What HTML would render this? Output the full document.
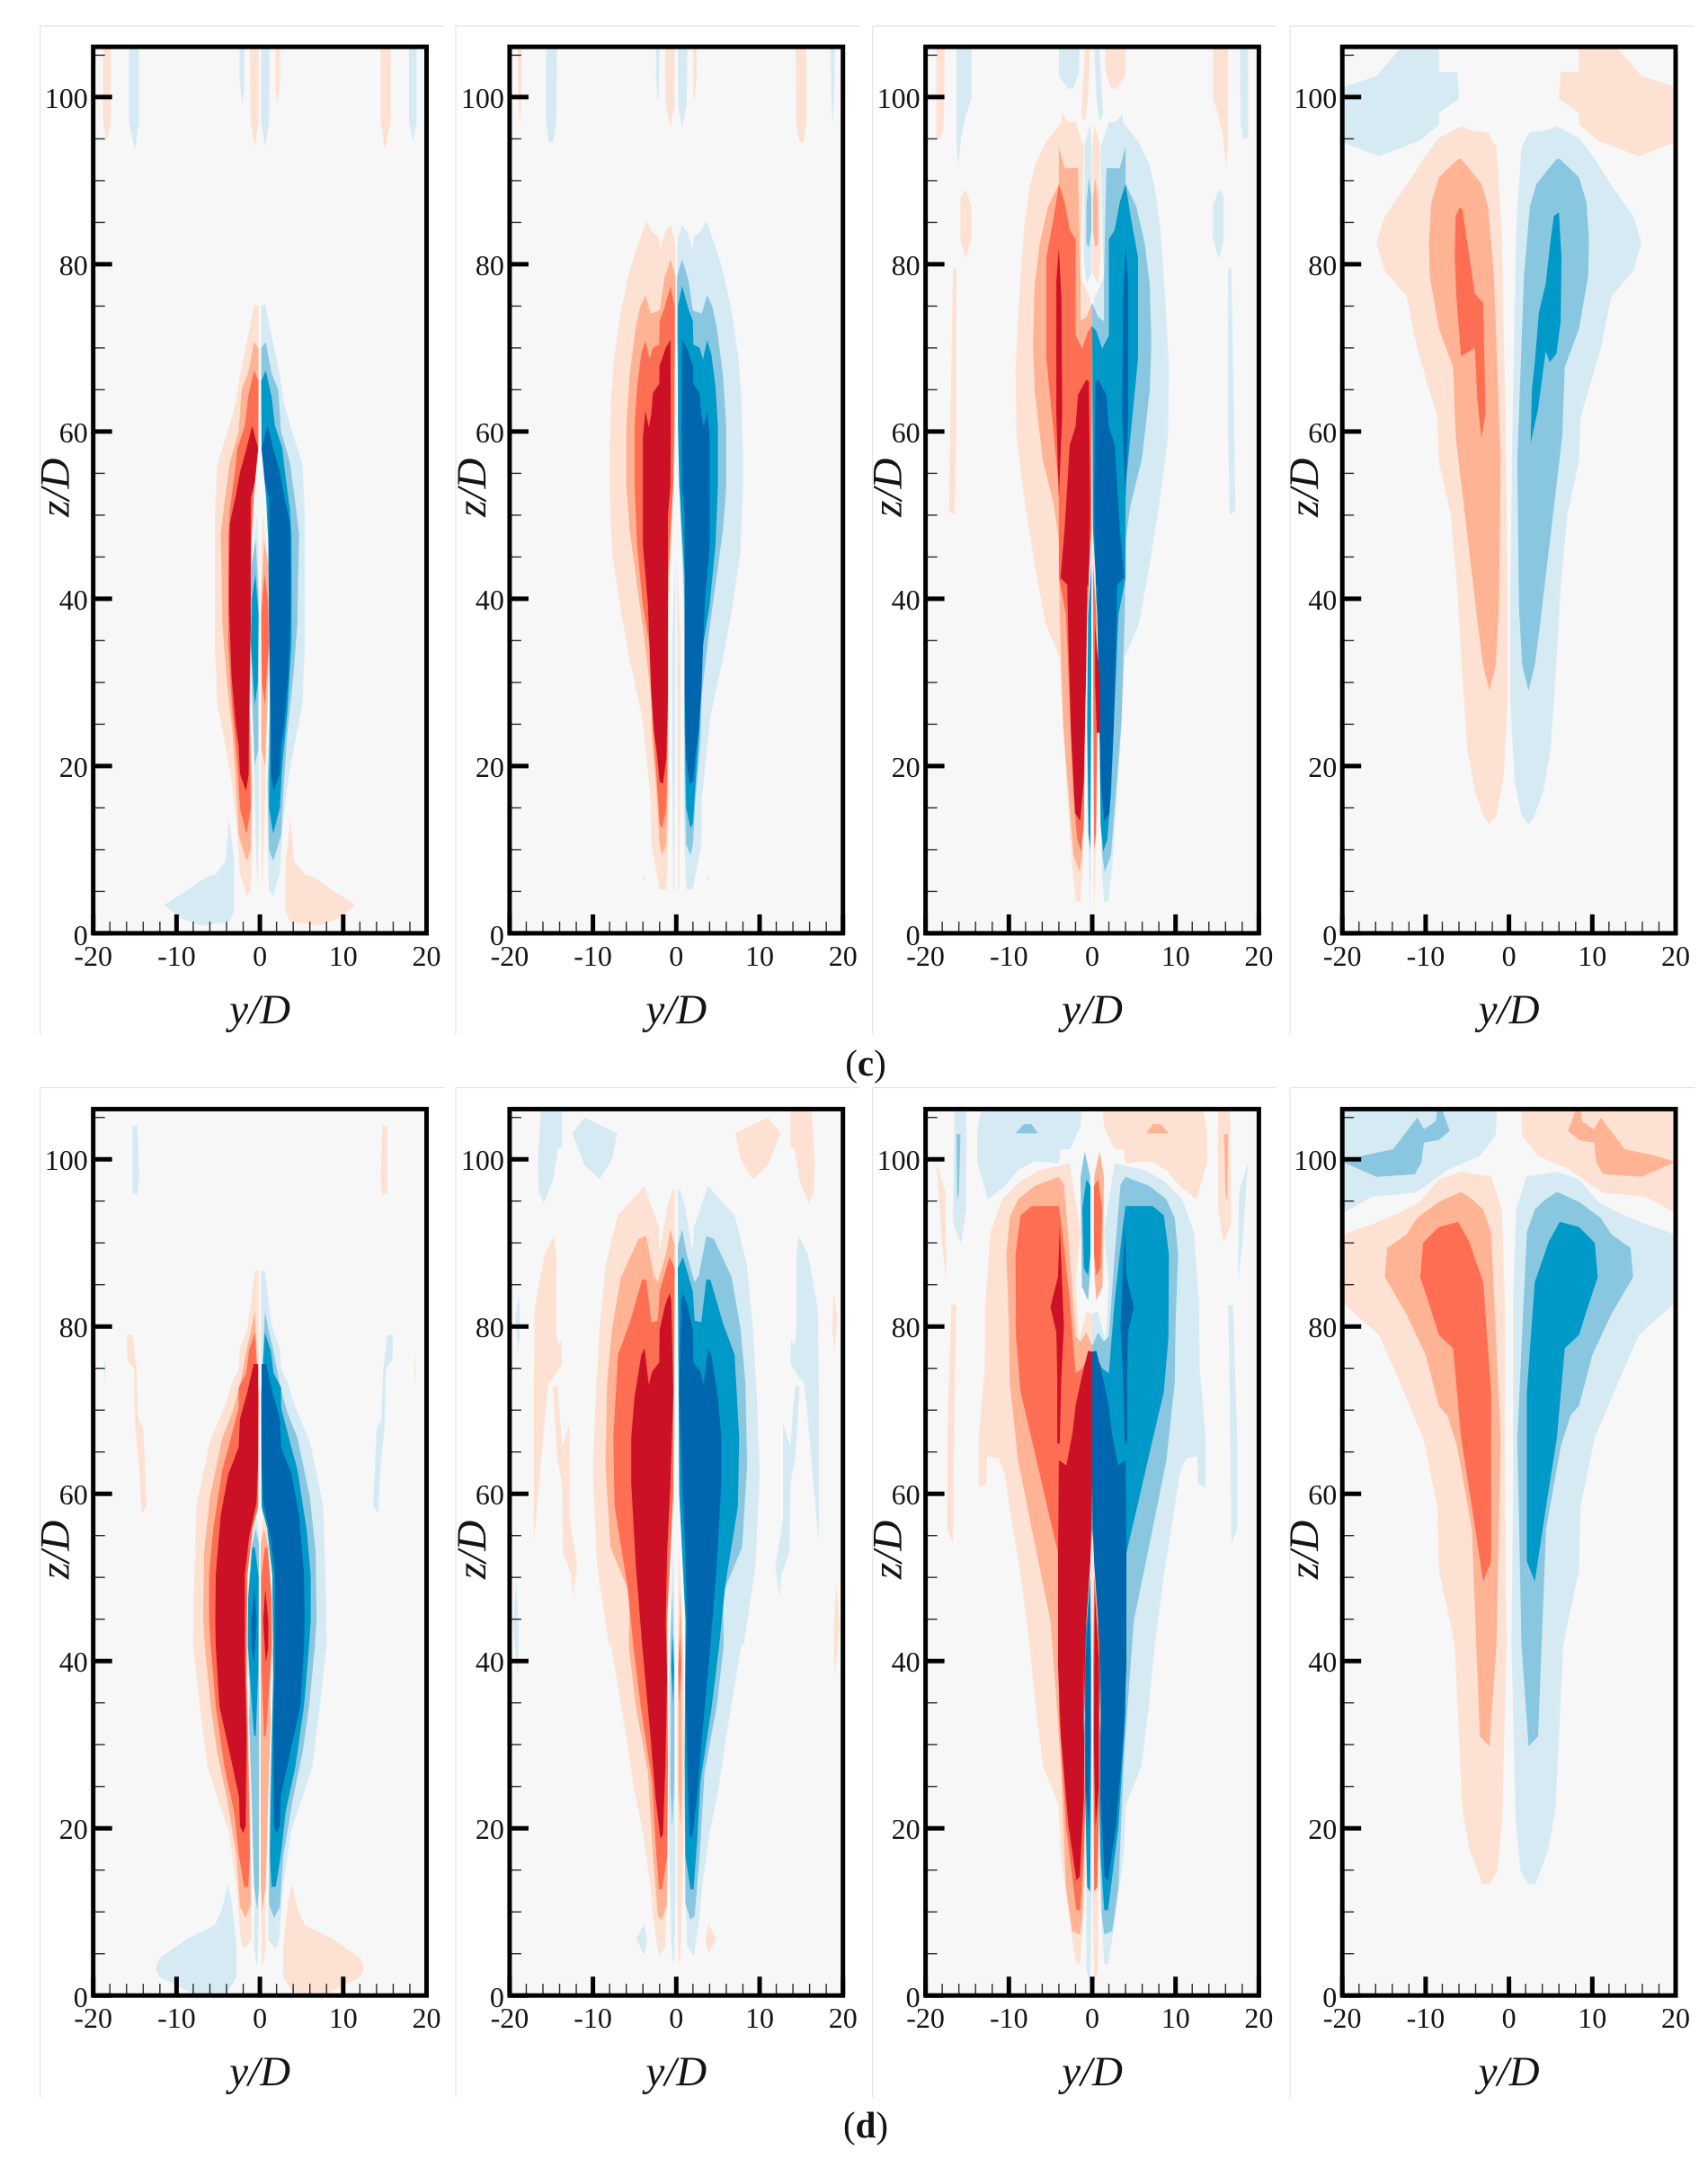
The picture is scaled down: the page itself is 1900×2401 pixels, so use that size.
<!DOCTYPE html>
<html lang="en">
<head>
<meta charset="utf-8">
<title>Contour panels (c) and (d)</title>
<style>
html,body{margin:0;padding:0;background:#fff;width:1900px;height:2401px;overflow:hidden}
svg{position:absolute;left:0;top:0;display:block}
text{font-family:"Liberation Serif",serif;fill:#141414}
</style>
</head>
<body>
<svg id="figure" xmlns="http://www.w3.org/2000/svg" width="1900" height="2401" viewBox="0 0 1900 2401"></svg>
<script>
// Tick values and labels
const zMajorTicks = [0, 20, 40, 60, 80, 100];
const zMinorTicks = [5, 10, 15, 25, 30, 35, 45, 50, 55, 65, 70, 75, 85, 90, 95, 105];
const yMajorTicks = [-20, -10, 0, 10, 20];
const yMinorTicks = [-18, -16, -14, -12, -8, -6, -4, -2, 2, 4, 6, 8, 12, 14, 16, 18];
const rowLabels = ['c', 'd'];

// Contour levels: positive = red family, negative = blue family.
// Every entry is [level, [y/D, z/D, y/D, z/D, ...]].
// "Mirrored" arrays are drawn as given and again with y -> -y and the opposite sign.
const c1Mirrored = [
 [-1,[-15.7,107,-14.5,107,-14.5,97,-15,93.6,-15.7,97]],
 [1,[-18.8,107,-17.9,107,-17.9,97,-18.4,94.7,-18.8,97]],
 [-1,[-2.44,107,-1.87,107,-1.87,101,-2.1,99,-2.44,102]],
 [1,[-1.2,107,-.15,107,-.15,97,-.6,94,-1.1,97]],
 [-1,[-11.5,3.4,-8.8,5.1,-6.3,6.8,-5.4,7,-4.1,8.6,-3.7,13.8,-3.1,8.8,-3.1,2.7,-3.6,1.4,-7,.9,-9.5,1.8]],
 [1,[-.65,75.2,-1.3,72,-2.4,66.7,-2.9,63.4,-3.6,60.9,-5.1,56,-5.4,49.9,-5.4,34.7,-5.1,27.3,-4.2,22.8,-3.4,18.3,-2.7,12.1,-2.4,7.2,-1.6,4.5,-1.1,5.1,-.93,10,-.93,18,-1.2,26.5,-1.1,37,-1,47,-.75,52,-.2,58,-.15,75]],
 [2,[-.7,70.7,-1.4,67,-2.2,65,-2.55,60,-3.6,56.3,-4.2,51.9,-4.7,47.8,-4.6,43,-4.5,37,-4,30.6,-3.3,24,-2.9,18.3,-2.55,11.7,-1.6,8.6,-1.1,10,-.93,18,-1.2,26.5,-1.1,37,-1,47,-.75,52,-.2,58,-.15,70]],
 [3,[-.7,67.3,-1.4,64.2,-1.8,60.7,-2.7,58,-2.9,56,-3.6,50.6,-3.8,47.4,-3.8,41,-3.8,34.7,-3.3,26.5,-2.7,20.3,-2.4,15,-1.6,11.9,-1.1,15,-1.2,22.4,-1.2,30,-1.1,37,-1,47,-.75,52,-.2,58,-.15,66]],
 [4,[-.93,60.7,-1.6,58,-2.4,55.1,-2.9,52.3,-3.6,49,-3.7,43,-3.7,38.8,-3.4,30.6,-2.9,24.9,-2.55,22.4,-2.4,19.1,-1.65,17,-1.35,19,-1.3,26.5,-1.1,36.8,-1.1,47,-1.1,52,-.6,54,-.2,58]],
 [-1,[-.35,50,-.93,45,-1.1,34.7,-.85,26.5,-.57,14,-.3,5.5,-.1,14,-.15,34.7,-.15,45]],
 [-2,[-.5,47,-1,44,-1.1,34.7,-.9,27,-.6,20,-.2,22,-.15,40]],
 [-3,[-.55,43,-.95,40,-1.08,34.7,-.6,27.3,-.25,30,-.15,38]]
];
const c2Mirrored = [
 [1,[-19.06,107,-18.5,107,-18.6,100,-18.75,96.5,-18.95,100]],
 [-1,[-15.6,107,-14.3,107,-14.4,97,-14.8,94.6,-15.3,94.6,-15.6,97]],
 [-1,[-2.4,107,-2,107,-2.1,100,-2.2,99.5,-2.45,103]],
 [1,[-1.35,107,-.2,107,-.25,99,-.7,96.3,-1.25,99]],
 [-1,[-4,7,-3.7,6.7,-3.9,6.2]],
 [1,[-3.6,85.2,-4.9,81.5,-5.75,78.6,-6.65,74.3,-7.4,69.3,-7.8,64.3,-8,57,-8,53.5,-7.7,45.6,-6.65,38.5,-5.6,32.8,-4.1,26,-3.6,21.3,-3.05,15.9,-3,10.6,-2.3,7,-2,5.2,-1.25,5.2,-1.1,7,-.9,14,-.9,35.6,-.54,53.5,-.1,82,-.2,83,-.7,84.7,-1.25,84,-2,81.8,-2.05,83.2,-2.9,83.9]],
 [2,[-.7,80.6,-1.45,78.2,-2,74.5,-3.05,74.1,-3.7,76.3,-4.3,75,-4.85,72.5,-5.6,66.8,-6,60.7,-6,53.5,-5.6,48.2,-4.85,42.8,-3.8,34.9,-3.05,28.5,-2.9,23,-2.3,15.9,-2,10.6,-1.7,9.3,-1.2,10.6,-1,17.7,-1,39.2,-.5,50,-.1,71.4,-.1,78.6]],
 [3,[-.7,77.4,-1.45,74.7,-2,73.2,-2.05,70.4,-2.8,70,-3.2,68.6,-3.7,70.9,-4.2,69.3,-4.7,65.4,-5,60.7,-5,53.5,-4.7,46.4,-4,39.2,-3.05,33.5,-2.8,24.9,-2.3,17.7,-2,13.1,-1.7,12.6,-1.2,14.9,-1,24.9,-1,42.8,-.36,53.5,-.2,60.7,-.2,75]],
 [4,[-.7,71,-1.25,70,-2,67.9,-2.05,65.7,-2.8,64.6,-3,62.1,-3.3,60.5,-3.7,62.5,-4,59.3,-4,53.5,-4,46.4,-3.4,39.2,-3,28.5,-2.7,24.2,-2.3,21.3,-2,18.1,-1.6,17.9,-1.2,20.9,-1,28.5,-1,50,-.7,53.5,-.65,60.7]],
 [-1,[-.1,45,-.5,35,-.5,20,-.36,5.2,-.25,5.2,-.15,20]]
];
const c3Mirrored = [
 [1,[-18.7,107,-17.7,107,-17.8,97,-18.1,95.1,-18.7,95.1]],
 [-1,[-16.3,107,-14.5,107,-14.5,99.8,-15.1,98,-15.7,95.3,-16.1,91.5,-16.3,95]],
 [1,[-15.8,88,-15.2,89,-14.5,87,-14.5,83,-15.2,80.6,-15.8,83]],
 [1,[-16.7,79.5,-16.3,79.5,-16.3,60,-16.5,50,-17.2,50.5,-17,62]],
 [-1,[-4,107,-1.5,107,-1.6,103,-2.3,101,-2.9,101,-4,102.5]],
 [1,[-.8,107,-.2,107,-.5,100,-.9,97,-1.3,98]],
 [1,[-3.66,97,-5.6,94.6,-6.9,91.8,-7.6,88.5,-8.2,84.1,-8.76,75.9,-9.2,67.7,-9.1,59.5,-8.2,52.3,-6.9,44.1,-5.6,37,-3.9,33,-3.45,23.8,-2.85,14.8,-2.4,8,-1.95,3.9,-1.45,3.7,-1.2,6.9,-1,13,-.85,27.3,-.6,38.1,-.1,45.8,0,73.2,-.25,76,-1,77.6,-1.4,78.6,-1.2,84,-1,94,-2,97,-2.9,97,-3.66,98.1]],
 [2,[-4,94,-4,89.6,-5.3,86.9,-6.3,82.5,-6.9,77.6,-7.1,70.4,-6.9,64.9,-5.95,56.7,-4.6,51.2,-4,46.9,-3.9,38,-3.5,25,-2.55,13,-2.25,9.4,-1.5,7.3,-1.2,9.4,-.9,27,-.6,38,-.1,45.8,0,75.4,-.7,73.7,-1.4,73.2,-1.4,78,-1.7,91.5,-3.3,91.5]],
 [3,[-4,89.6,-4.6,85.8,-5.5,80.8,-5.5,68.8,-4.6,59.5,-4,53.4,-4,42.5,-3.15,38.1,-2.6,25,-2.25,16.6,-1.8,11.2,-1.33,9.8,-1,13,-.85,27,-.6,38,-.1,45.8,0,72.6,-.5,72,-1.2,69.9,-2,71.5,-2,83,-2.7,84.1,-3.3,87.4]],
 [4,[-4,82,-3.7,76,-3.6,62,-4,52,-4.3,62,-4.3,78]],
 [4,[-.7,66.2,-1.7,64.4,-2,60.6,-2.7,58.4,-3.3,48.5,-3.8,42.5,-3,41.7,-2.85,34.5,-2.55,23.8,-2.06,14.4,-1.45,13.4,-1,18.4,-.7,32.7,-.6,41.7,-.4,41.4,-.25,51.2,-.4,66]],
 [-1,[-.25,96.7,-.9,94.5,-1,80.8,-.7,77.6,-.05,79,-.05,94]],
 [-2,[-.4,90.4,-.7,87,-.7,82.5,-.4,82,-.1,84,-.1,88]],
 [-1,[0,49.6,-.4,43,-.7,29.3,-.6,16.6,-.24,2.6,-.1,16,-.05,40]],
 [-3,[-.1,44,-.5,38,-.6,25,-.45,12,-.24,10,-.14,25]]
];
const c3Single = [
 [4,[.35,37,.9,30,.9,24,.55,24,.35,30]]
];
const c4Mirrored = [
 [-1,[-20,101.2,-15.9,102.5,-12,107,-8.4,107,-8.4,103,-6.2,103,-6,99.8,-8.4,98.1,-8.4,96.7,-10.7,94.8,-15.6,92.9,-20,94.6]],
 [1,[-5.75,96.5,-8.4,95.1,-10,93,-12.6,89,-14.9,85.8,-15.9,82.5,-14.9,79.2,-12.3,76.2,-11,69.9,-8.6,61.7,-8.4,56.4,-7,50.1,-6.24,41.7,-5.6,30.9,-5,22,-4.1,17,-3,13.9,-2.4,13,-1.5,14.1,-.67,18.4,-.18,27.3,-.18,41.7,-.4,60,-.85,84,-1.5,94,-2.5,95.8,-4.1,95.9]],
 [2,[-6.1,92.6,-8.4,90.4,-9.3,87.4,-9.6,83,-9.5,78.6,-8.4,72.3,-6.7,67.7,-6.4,59.5,-5.1,48.5,-3.8,37.5,-3.1,32,-2.35,29,-1.6,32,-1.2,39,-1,56.7,-1.8,78.6,-2.5,86.9,-3.3,89.6,-4.8,91.5,-5.75,92.6]]
];
const c4Single = [
 [3,[-5.9,86.8,-6.4,85.8,-6.5,80.8,-6.3,75.9,-5.75,69,-4.1,70,-3.8,63.8,-3.3,59.2,-2.8,62.2,-3.1,75.4,-4.1,76.5,-4.9,81.9,-5.6,86.6]],
 [-3,[6,86.2,5.4,85.8,5,83,4.4,77.6,3.6,74.3,3.1,68.2,2.75,65,2.6,58.6,3.5,62.7,4.4,69.6,4.9,68.3,5.7,69.3,6.2,73.2,6.3,80.8]]
];
const d1Mirrored = [
 [-1,[-15.3,104,-14.7,104,-14.5,98,-14.7,95.7,-15.3,96]],
 [-1,[-18.7,76.5,-18.5,75,-18.7,73]],
 [1,[-16,79,-15.3,79,-14.8,74.9,-14.6,68.9,-14,67.8,-13.6,58.5,-14.2,57.7,-14.5,63.4,-15,68.4,-15.1,74.9,-15.9,76]],
 [-1,[-12.5,3.2,-12,4.5,-8.7,6.8,-5.4,8.4,-4.6,10.2,-3.85,13.3,-3.4,11.3,-2.8,5.9,-2.8,2.3,-3.85,.4,-8,.2,-10.2,1.3,-12,2.2]],
 [1,[-.6,86.7,-1.1,82.6,-1.5,79.8,-2.4,77.4,-2.55,74.9,-3.3,73.3,-4.2,70.5,-6,66.2,-6.7,62.9,-7.6,58.5,-7.95,47.6,-8,41.8,-7.2,34.6,-6.3,27.4,-5.15,23.8,-3.7,19.5,-2.8,13,-2.5,9.5,-2.3,6.6,-1.9,5.6,-1,6.6,-1,9.5,-1.3,23.8,-1.6,38.2,-1.5,42,-1.5,50.3,-1,54.7,-.2,58.5,-.15,72,-.15,86.7]],
 [2,[-.6,81.9,-1.1,79.3,-1.5,77.7,-2.4,73,-3.3,69.7,-4.5,66.7,-6,59.6,-6.7,53,-6.8,44.8,-6.6,41.8,-5.9,34.6,-5.15,29.2,-4,23.8,-2.8,16.7,-2.4,10.6,-1.7,9.3,-1.1,10.9,-1.2,23.8,-1.6,38.2,-1.5,50.3,-1,54.7,-.2,58.5,-.15,72]],
 [3,[-.6,79.3,-1.3,77.1,-1.65,74.4,-2.55,72.7,-2.55,70.3,-3.6,66.2,-4.5,62.9,-5.6,55.8,-6.1,50.3,-6.1,44.8,-5.9,41.8,-5.3,34.6,-4.26,27.4,-3.1,22,-2.5,16.7,-1.9,13,-1.4,13,-1.2,16.7,-1.6,38.2,-1.5,50.3,-1,54.7,-.2,58.5,-.15,72]],
 [4,[-.75,75.5,-1.5,72.2,-2.4,68.9,-2.55,65.6,-3.8,62.3,-4.7,57.4,-5.3,50.3,-5.35,44.8,-5.3,41.8,-4.85,34.6,-3.67,29.2,-2.5,23.8,-2.4,20.3,-2,19.4,-1.7,20.3,-1.6,31,-1.8,40,-1.8,44.8,-1.8,50.3,-1.3,54.7,-.4,59,-.2,64,-.2,75.5]],
 [-1,[-.4,57.7,-.9,55.8,-1.5,47.6,-1.6,42,-1.3,36.6,-1,31,-.7,20.3,-.6,13,-.7,5.9,-.4,3.6,-.25,3.8,-.12,13,-.1,31,-.12,55]],
 [-2,[-.5,55.8,-1,53.6,-1.4,47.6,-1.45,42,-1.2,36.6,-1.3,32.8,-1,23.8,-.7,13,-.3,10.2,-.12,13,-.1,31,-.12,54]],
 [-3,[-.6,53.6,-.9,53.6,-1.4,47.6,-1.45,42,-1.1,36.6,-.7,31.1,-.5,31,-.2,39,-.15,50]],
 [-4,[-.65,48.6,-1,44.8,-1,41.5,-.7,39.9,-.4,44.8]]
];
const d2Mirrored = [
 [-1,[-16.2,107,-13.7,107,-13.7,101.5,-14.2,101.2,-14.8,97.4,-15.9,94.8,-16.5,96,-16.6,100]],
 [-1,[-12.5,103.1,-11,105,-7.1,103.1,-7.7,100,-9.2,97.6,-11,99.3]],
 [-1,[-19.3,81,-18.9,84,-18.7,80,-19,77]],
 [-1,[-19.6,44,-19.2,49.5,-18.9,44,-19,38]],
 [-1,[-4.8,6.8,-3.85,8.6,-3.5,6.6,-3.85,4.9]],
 [1,[-14.7,90.8,-15.8,88.6,-16.5,84.8,-17,82,-17.1,72.2,-17.1,54.1,-15.6,71,-15.3,73.3,-14.8,73.8,-13.7,75.5,-13.8,78.5,-14.2,77.7,-14.4,79.3,-14.4,88.6]],
 [1,[-13.7,65.6,-12.8,68.4,-12.8,56.9,-11.9,51.4,-12.4,47.6,-12.6,50.3,-13.6,53,-13.7,61.2,-14.3,64.5,-14.8,72.7,-14.3,73,-14,70]],
 [1,[-3.8,96.8,-7,93.3,-8.45,87.5,-9.2,79.8,-9.7,71,-10,62.3,-9.5,51.4,-8.1,42,-7.8,41.8,-6,31,-5.1,24.9,-4,19.5,-3.1,13,-2.8,9.5,-2.1,4.7,-1.3,5.9,-1,16.7,-1.2,31,-1.4,31,-1.1,50.3,-.7,55.8,-.36,61.2,-.18,96.3,-.36,96.5,-1,94.6,-2,88.9,-2.1,91.9,-2.7,93.5]],
 [2,[-.7,91.6,-1.26,88.6,-2.2,85.3,-2.7,86.1,-3.6,90.8,-4.5,90.5,-6.65,85.9,-7.7,79.8,-8.3,73.3,-8.5,63.4,-7.9,53.6,-5.6,48.1,-5.7,41.8,-4.85,34.6,-3.4,26.7,-2.8,16.7,-2.2,9.5,-1.7,9.1,-1.1,10.9,-1,23.8,-1.2,34.6,-1.26,44.8,-1.1,50,-.36,66.7,-.18,89.7]],
 [3,[-.8,88.3,-2,84.2,-2.2,80.7,-3,80.5,-3.6,85.6,-4.1,85.6,-5.6,80.4,-7,76.6,-7.55,66.7,-7.4,58.5,-5.9,49.2,-5.15,41.8,-4.26,34.6,-2.9,25.6,-2.5,18.5,-2.07,12.7,-1.7,12.7,-1.1,16.7,-1,27.4,-1.1,44.8,-.36,60,-.18,87]],
 [4,[-.8,84,-1.33,82.6,-2,79.6,-2.05,75.7,-2.9,74.6,-3.3,73,-3.8,77.4,-4.2,76.6,-5,71.6,-5.4,66.7,-5.4,61.2,-4.85,51.4,-4.1,42,-3.1,31,-2.5,23.8,-1.9,18.8,-1.6,19.2,-1.3,27.4,-1.1,38,-1.26,44.8,-1.1,53,-.7,61.2,-.36,72.2,-.6,83.1]],
 [-1,[-.36,54,-.7,44.8,-.9,36.6,-1,31,-.83,16.7,-.53,4.8,-.24,3.6,-.12,13,-.18,44.8]],
 [-2,[-.47,48.6,-.7,42,-.65,33.9,-.7,25,-.5,20,-.25,25,-.25,39]],
 [-3,[-.43,43.2,-.6,39.3,-.36,35,-.25,39]]
];
const d3Mirrored = [
 [1,[-18.7,99.6,-17.6,96,-17.5,85.3,-18,89.7]],
 [1,[-16.9,82.6,-16.3,82.6,-16.5,72.2,-16.7,54.1,-17.4,55.8,-17.4,66.7]],
 [-1,[-16.5,107,-15.1,107,-15.1,94,-15.75,90,-16.7,92.4]],
 [-2,[-16.3,103,-15.8,103,-16,96,-16.2,95]],
 [-1,[-13.1,107,-13.8,103.4,-13.8,99.6,-12.5,95.2,-10.5,96.8,-8.9,98.7,-6.9,99.8,-4,99.5,-3.8,101.2,-2.7,101.2,-1.4,103.9,-1.2,107]],
 [-2,[-9.2,103.1,-8.2,104.2,-7.3,104.2,-6.5,103.1]],
 [1,[-4,99.2,-6.3,98.7,-8.6,97.4,-10.8,95.2,-12.2,91.3,-12.8,83.1,-12.9,74.9,-13.6,66.7,-13.6,60.7,-12.7,61.2,-12.6,64.5,-11.2,64.2,-10.5,62.3,-9.5,55.8,-8.6,50.3,-7.5,41.8,-6.8,34.6,-5.9,27.4,-4.06,22.8,-3.76,16.7,-2.55,7.7,-1.9,3.8,-1.45,3.8,-1.2,7.7,-.7,16.7,-.7,31,-.4,50.3,0,55.8,0,81.5,-.7,81.8,-1.6,78.2,-2,85.3,-1.4,91.3,-2.7,99.5]],
 [2,[-4,97.9,-6.9,96.8,-8.9,95.2,-9.9,93,-10.3,88.6,-10,80.4,-9.9,73.3,-8.9,64,-7.25,55.8,-5,44.8,-4.2,33.9,-3.76,27.4,-3.15,13,-2.4,7.7,-1.45,7.3,-1.15,9.5,-.7,27.4,-.4,50.3,0,55.8,0,77.7,-.7,79.3,-1.4,78.2,-2,78.8,-2.7,88.6,-3.4,97]],
 [3,[-4,94.4,-7.25,94.4,-8.6,93.3,-9.2,88.6,-9.15,78.8,-8.6,72.2,-6.9,65,-5.3,58,-4,52.5,-4,33.9,-3.15,20.3,-2.25,13,-1.9,10.2,-1.45,10.2,-1,16.7,-.7,31,-.4,50.3,0,55.8,0,73.8,-.4,76.6,-1.2,75,-2,74.4,-2.7,83.1,-3.66,91.9]],
 [4,[-3.9,91.9,-3.6,85,-3.4,80,-3.7,74,-3.9,66,-4.2,66,-4.2,74,-4.3,79.3,-5,82.3,-4.1,86]],
 [4,[-.5,77.1,-1.4,73.3,-2,70.5,-2.35,67.3,-3.1,63.4,-4,64,-4.1,52.5,-4.1,39.3,-3.76,31,-2.85,20.3,-1.9,13.8,-1.5,14.2,-1,23.8,-.85,41.8,-.7,39.3,-.25,50.3,0,61.2,0,77]],
 [-2,[-.9,100.9,-1.4,97.9,-1.24,84.8,-.5,83.1,-.25,86.4,-.25,98]],
 [-3,[-.7,97.6,-1.2,94,-1,87,-.5,86.1,-.2,88.6,-.2,96.8]],
 [-1,[0,55.2,-.7,44.8,-1,31,-1,41,-.9,25,-.7,13,-.7,3,-.24,1.4,-.05,13,-.05,40]],
 [-3,[-.25,50.3,-.85,42,-.9,31,-.85,23.8,-.6,13,-.25,12.4,-.15,25,-.12,40]],
 [-4,[-.3,48,-.8,40,-.8,25,-.4,20,-.2,30]]
];
const d4Mirrored = [
 [-1,[-20,107,-20,93.5,-16.5,95.5,-11.3,96,-10,96.8,-7.4,98.7,-3.5,100.4,-1.6,102.8,-1.4,107]],
 [-2,[-20,99.7,-15.9,97.9,-11.3,98.2,-10.5,99.6,-10.2,102,-8.4,102.3,-7.1,103.4,-8.4,107,-8.8,104.5,-10.2,103.6,-11,105,-13.9,101.2,-17.2,100.5]],
 [1,[-5.75,98.5,-8.4,97.6,-10.7,94.9,-13.3,93.5,-16.5,92.2,-20,91,-20,82.9,-15.6,79,-13.3,73.8,-10.3,66.7,-8.6,58.5,-8.4,50.8,-7.1,44.8,-6.5,41.8,-6,31,-5.6,22.4,-4.7,17.4,-3.2,13.4,-2.3,13.3,-1.4,14.9,-.8,21,-.3,41.8,-.5,61.2,-.5,83,-.85,94,-2.15,98,-4.1,98.2]],
 [2,[-5.75,96.1,-8.4,94.9,-11,93,-12.3,91,-14.6,89.4,-14.9,85.9,-12.3,81.5,-10,76.6,-8.4,70.5,-7.4,69.4,-6.2,65.6,-4.45,55.8,-3.5,31,-2.35,29.8,-1.5,42,-1,66.7,-2.15,91.3,-3.1,94,-4.4,95.2]],
 [3,[-6.1,92.5,-8.4,91.9,-10.3,90,-10.65,85.9,-9.35,82,-8.4,79,-6.7,77.4,-5.75,66.7,-4.45,58.5,-3.1,49.5,-2.15,51.9,-2.15,72.2,-3.1,85.3,-4.8,90.2]]
];

// Panels and rows
const rowPanels = [
 [[c1Mirrored, []], [c2Mirrored, []], [c3Mirrored, c3Single], [c4Mirrored, c4Single]],
 [[d1Mirrored, []], [d2Mirrored, []], [d3Mirrored, []], [d4Mirrored, []]]
];

// Layout and styling
const panelLeft = [103.7, 566.9, 1029.6, 1493.2];
const frameLeft = [44.7, 507, 970.7, 1435];
const frameRight = [494, 956.6, 1419.7, 1885];
const rowZero = [1037.9, 2219.2];
const rowFrame = [[29, 1151], [1209.5, 2333]];
const pxPerY = 9.27;
const pxPerZ = 9.3;
const zTop = 106;
const levelColors = {'1':'#fde1d2','2':'#feb394','3':'#fe6e52','4':'#cc1026','-1':'#d6eaf3','-2':'#89c7e0','-3':'#0099c8','-4':'#0066ae'};

const NS = 'http://www.w3.org/2000/svg';
const figure = document.getElementById('figure');

function make(tag, attrs, parent) {
  const el = document.createElementNS(NS, tag);
  for (const k in attrs) el.setAttribute(k, attrs[k]);
  parent.appendChild(el);
  return el;
}

function drawContour(level, flat, xOf, yOf, parent) {
  const pts = [];
  for (let i = 0; i < flat.length; i += 2) {
    pts.push(xOf(flat[i]).toFixed(1) + ',' + yOf(flat[i + 1]).toFixed(1));
  }
  const poly = make('polygon', {points: pts.join(' '), fill: levelColors[level]}, parent);
  
  
}

function drawTickLine(x1, y1, x2, y2, width, color, name, parent) {
  const line = make('line', {x1: x1, y1: y1, x2: x2, y2: y2, stroke: color, 'stroke-width': width}, parent);
  
  
}

rowPanels.forEach(function (panels, r) {
  const z0 = rowZero[r];
  const yOf = function (z) { return z0 - z * pxPerZ; };

  panels.forEach(function (panel, p) {
    const left = panelLeft[p];
    const xOf = function (y) { return left + (y + 20) * pxPerY; };
    const plotLeft = xOf(-20), plotRight = xOf(20), plotTop = yOf(zTop), plotBottom = yOf(0);

    const group = make('g', {}, figure);
    
    

    // light image frame
    drawTickLine(frameLeft[p], rowFrame[r][0], frameLeft[p], rowFrame[r][1], 1.2, '#e4e4e4', 'panel-frame-left', group);
    drawTickLine(frameLeft[p], rowFrame[r][0], frameRight[p], rowFrame[r][0], 1.2, '#e4e4e4', 'panel-frame-top', group);

    const clipId = 'clip-' + r + '-' + p;
    const defs = make('defs', {}, group);
    const clip = make('clipPath', {id: clipId}, defs);
    make('rect', {x: plotLeft, y: plotTop, width: plotRight - plotLeft, height: plotBottom - plotTop}, clip);

    const plotBg = make('rect', {x: plotLeft, y: plotTop, width: plotRight - plotLeft, height: plotBottom - plotTop, fill: '#f7f7f7'}, group);
    
    

    const marks = make('g', {'clip-path': 'url(#' + clipId + ')'}, group);
    
    

    panel[0].forEach(function (entry) {
      drawContour(entry[0], entry[1], xOf, yOf, marks);
      const mirrored = entry[1].map(function (v, i) { return i % 2 === 0 ? -v : v; });
      drawContour(-entry[0], mirrored, xOf, yOf, marks);
    });
    panel[1].forEach(function (entry) {
      drawContour(entry[0], entry[1], xOf, yOf, marks);
    });

    // ticks
    zMinorTicks.forEach(function (z) {
      drawTickLine(plotLeft, yOf(z), plotLeft + 13, yOf(z), 1.4, '#2a2a2a', 'z-minor-tick', group);
    });
    yMinorTicks.forEach(function (y) {
      drawTickLine(xOf(y), plotBottom, xOf(y), plotBottom - 13, 1.4, '#2a2a2a', 'y-minor-tick', group);
    });
    zMajorTicks.forEach(function (z) {
      drawTickLine(plotLeft, yOf(z), plotLeft + 21, yOf(z), 5, '#000', 'z-major-tick', group);
      const label = make('text', {x: plotLeft - 6, y: yOf(z) + (z === 0 ? 13 : 12), 'text-anchor': 'end', 'font-size': 32}, group);
      label.textContent = String(z);
      
      
    });
    yMajorTicks.forEach(function (y) {
      drawTickLine(xOf(y), plotBottom, xOf(y), plotBottom - 21, 5, '#000', 'y-major-tick', group);
      const label = make('text', {x: xOf(y), y: plotBottom + 36, 'text-anchor': 'middle', 'font-size': 32}, group);
      label.textContent = String(y);
      
      
    });

    // axis box
    const box = make('rect', {x: plotLeft, y: plotTop, width: plotRight - plotLeft, height: plotBottom - plotTop, fill: 'none', stroke: '#000', 'stroke-width': 5}, group);
    
    

    // axis titles
    const xTitle = make('text', {x: xOf(0), y: plotBottom + 100, 'text-anchor': 'middle', 'font-size': 47, 'font-style': 'italic'}, group);
    xTitle.textContent = 'y/D';
    
    

    const yTitle = make('text', {x: 0, y: 0, 'text-anchor': 'middle', 'font-size': 47, 'font-style': 'italic', transform: 'translate(' + (plotLeft - 27) + ' ' + yOf(53.3) + ') rotate(-90)'}, group);
    yTitle.textContent = 'z/D';
    
    
  });

  // row caption
  const caption = make('text', {x: 963, y: z0 + 158, 'text-anchor': 'middle', 'font-size': 41}, figure);
  
  
  const open = make('tspan', {}, caption);
  open.textContent = '(';
  const letter = make('tspan', {'font-weight': 'bold'}, caption);
  letter.textContent = rowLabels[r];
  const close = make('tspan', {}, caption);
  close.textContent = ')';
});
</script>
</body>
</html>
